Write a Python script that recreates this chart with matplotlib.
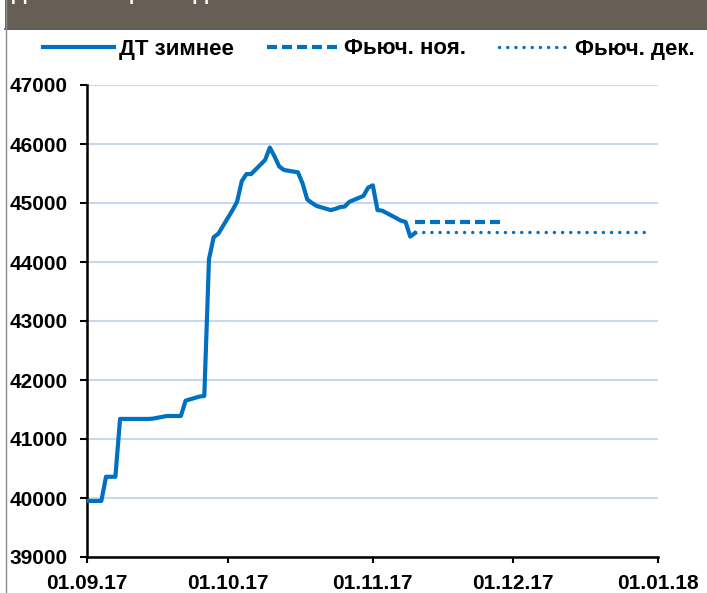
import matplotlib
matplotlib.use("Agg")
import matplotlib.pyplot as plt
import matplotlib.dates as mdates
from matplotlib.patches import Rectangle
from matplotlib.lines import Line2D
import datetime as dt

plt.rcParams['font.family'] = ['Liberation Sans', 'DejaVu Sans']

# ДТ зимнее, рабочие дни
dates = ["2017-09-01", "2017-09-04", "2017-09-05", "2017-09-06", "2017-09-07", "2017-09-08",
         "2017-09-11", "2017-09-12", "2017-09-13", "2017-09-14", "2017-09-15",
         "2017-09-18", "2017-09-19", "2017-09-20", "2017-09-21", "2017-09-22",
         "2017-09-25", "2017-09-26", "2017-09-27", "2017-09-28", "2017-09-29",
         "2017-10-02", "2017-10-03", "2017-10-04", "2017-10-05", "2017-10-06",
         "2017-10-09", "2017-10-10", "2017-10-11", "2017-10-12", "2017-10-13",
         "2017-10-16", "2017-10-17", "2017-10-18", "2017-10-19", "2017-10-20",
         "2017-10-23", "2017-10-24", "2017-10-25", "2017-10-26", "2017-10-27",
         "2017-10-30", "2017-10-31", "2017-11-01", "2017-11-02", "2017-11-03",
         "2017-11-06", "2017-11-07", "2017-11-08", "2017-11-09", "2017-11-10"]
prices = [39950, 39950, 40360, 40360, 40360, 41340,
          41340, 41340, 41340, 41340, 41345,
          41390, 41390, 41390, 41390, 41650,
          41720, 41730, 44050, 44420, 44480,
          44875, 45020, 45370, 45490, 45490,
          45730, 45940, 45790, 45620, 45560,
          45520, 45330, 45060, 45000, 44950,
          44880, 44900, 44930, 44940, 45020,
          45120, 45260, 45300, 44880, 44870,
          44745, 44700, 44680, 44430, 44490]

fut_nov_dates = ["2017-11-10", "2017-11-29"]
fut_nov = [44680, 44680]
fut_dec_dates = ["2017-11-10", "2017-12-30"]
fut_dec = [44510, 44510]

ticks = ["2017-09-01", "2017-10-01", "2017-11-01", "2017-12-01", "2018-01-01"]

def to_dates(lst):
    return [dt.datetime.strptime(s, "%Y-%m-%d") for s in lst]

blue = "#0070C0"
W, H = 707, 593
fig = plt.figure(figsize=(W / 100, H / 100), dpi=100)

# шапка
fig.patches.append(Rectangle((5 / W, 1 - 28 / H), 1, 28 / H, transform=fig.transFigure,
                             facecolor="#675E55", edgecolor="none", zorder=0))
fig.add_artist(Line2D([5 / W, 1], [1 - 28.5 / H, 1 - 28.5 / H], transform=fig.transFigure,
                      color="#3C3C3C", lw=1.2))
fig.add_artist(Line2D([5.5 / W, 5.5 / W], [0, 1], transform=fig.transFigure,
                      color="#8C8C8C", lw=1.0))
fig.text(12 / W, 1.0, "Динамика цен на ДТ", color="white", fontsize=15,
         fontweight="bold", va="baseline", ha="left")

ax = fig.add_axes([87.3 / W, 1 - 557 / H, 571 / W, 472 / H])

ax.plot(to_dates(dates), prices, color=blue, lw=3, solid_joinstyle="round",
        label="ДТ зимнее", zorder=3)
ax.plot(to_dates(fut_nov_dates), fut_nov, color=blue, lw=3,
        linestyle=(0, (2.4, 1.2)), label="Фьюч. ноя.", zorder=3)
ax.plot(to_dates(fut_dec_dates), fut_dec, color=blue, lw=2.4,
        linestyle=(0, (0.05, 2.4)), dash_capstyle="round", label="Фьюч. дек.", zorder=3)

ax.set_xlim(dt.datetime(2017, 9, 1), dt.datetime(2018, 1, 1))
ax.set_ylim(39000, 47000)
ax.set_yticks(range(39000, 47001, 1000))
ax.set_xticks(to_dates(ticks))
ax.xaxis.set_major_formatter(mdates.DateFormatter("%d.%m.%y"))

ax.grid(axis="y", color="#C6D9F0", lw=1.5, zorder=0)
ax.set_axisbelow(True)
for s in ["top", "right"]:
    ax.spines[s].set_visible(False)
for s in ["left", "bottom"]:
    ax.spines[s].set_linewidth(1.8)
ax.tick_params(axis="y", length=5, width=1.5, pad=9, labelsize=15)
ax.tick_params(axis="x", length=4, width=1.5, pad=8, labelsize=15)
for lab in ax.get_xticklabels() + ax.get_yticklabels():
    lab.set_fontweight("bold")

fig.legend(loc="center left", bbox_to_anchor=(43 / W, 1 - 49 / H), ncol=3,
           frameon=False, borderpad=0, borderaxespad=0,
           handlelength=3.2, handletextpad=0.23, columnspacing=1.5,
           prop={"size": 16, "weight": "bold"})

fig.savefig("out.png", dpi=100)
